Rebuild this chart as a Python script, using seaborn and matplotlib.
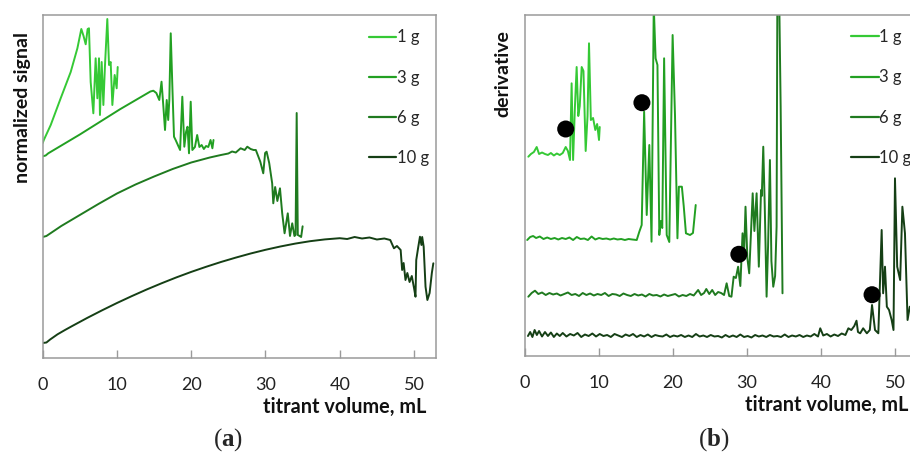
import matplotlib
matplotlib.use("Agg")
import matplotlib.pyplot as plt
import pandas as pd
import seaborn as sns

series_names = ["1 g", "3 g", "6 g", "10 g"]
series_colors = ["#35c935", "#22a022", "#1f7a1f", "#153f15"]
x_ticks = [0, 10, 20, 30, 40, 50]
x_label = "titrant volume, mL"
y_label_a = "normalized signal"
y_label_b = "derivative"

# ---- panel (a): normalized signal (offset curves, arbitrary units) ----
signal_1g = [(0, 215), (0.15, 218), (1.08, 233), (2.42, 259.7), (3.77, 286), (4.67, 309.7),
             (5.2, 329), (5.5, 322), (5.79, 313.7), (6.05, 329), (6.23, 329.7), (6.46, 276),
             (6.82, 244.7), (7.13, 299.7), (7.36, 259.7), (7.58, 299.7), (7.71, 243), (7.94, 296),
             (8.17, 253), (8.39, 293), (8.7, 339), (8.93, 293), (9.15, 296), (9.38, 253),
             (9.69, 283), (9.96, 269.7), (10.1, 291)]
signal_3g = [(0, 201.7), (0.4, 202.5), (0.75, 204.7), (5, 223.5), (10.4, 248.7), (14.5, 266.5),
             (14.9, 267.3), (15.3, 265), (15.7, 258), (16.0, 276.3), (16.25, 251.3), (16.47, 228),
             (16.7, 258), (16.9, 238), (17.05, 258), (17.24, 324.7), (17.46, 271.3), (17.68, 221.3),
             (17.9, 218), (18.5, 208), (18.8, 261.3), (19.07, 211.3), (19.3, 226), (19.5, 231.3),
             (19.7, 204.7), (19.93, 256.3), (20.15, 208), (20.5, 211), (20.8, 223), (21.1, 211),
             (21.4, 213), (21.7, 209), (22.0, 212), (22.3, 211), (22.6, 218), (22.85, 209.7), (23.0, 218)]
signal_6g = [(0, 121), (0.5, 122), (2.5, 132), (5.0, 143), (7.5, 154), (10.0, 164.5),
             (12.5, 173.5), (15.0, 181.5), (17.5, 189), (20.0, 195.5), (22.5, 200.5), (24.0, 203),
             (25.0, 204.5), (25.5, 206.5), (26.0, 205.5), (26.65, 209.7), (27.2, 208), (27.55, 211.3),
             (28.0, 209), (28.4, 208), (28.7, 208), (29.3, 196.3), (29.7, 184.7), (29.95, 205),
             (30.15, 206.3), (30.5, 195), (30.9, 174.7), (31.05, 154.7), (31.3, 171), (31.6, 157),
             (31.95, 169.7), (32.25, 144.7), (32.57, 124.7), (33.0, 144.7), (33.3, 122), (33.6, 134.7),
             (33.9, 122), (34.05, 123), (34.2, 245), (34.35, 123), (34.6, 122), (34.8, 121), (35.0, 131.7)]
signal_10g = [(0, 15), (0.5, 15.5), (1, 18.5), (2, 23.7), (3, 28.0), (4, 32.1), (5, 36.1), (6, 40.1),
              (8, 47.7), (10, 55), (12, 61.9), (14, 68.5), (16, 74.7), (18, 80.6), (20, 86.1),
              (22, 91.2), (24, 96), (26, 100.4), (28, 104.5), (30, 108.2), (32, 111.5), (34, 114.4),
              (36, 116.8), (38, 118.6), (40, 119.8), (41, 119), (42, 121), (43, 119.5), (44, 120.5),
              (45, 118.5), (46, 119.5), (46.8, 118), (47.3, 109.7), (47.7, 112), (48.2, 108), (48.4, 88),
              (48.6, 95), (48.85, 78), (49.1, 85), (49.4, 76), (49.7, 82), (50.0, 70), (50.2, 61.3),
              (50.3, 98), (50.55, 110), (50.8, 121.3), (51.0, 113), (51.1, 121), (51.3, 111.3),
              (51.55, 71.3), (51.8, 58), (52.1, 65), (52.4, 85), (52.6, 94.7)]

# ---- panel (b): derivative (offset curves, arbitrary units) ----
deriv_1g = [(0.45, 199.3), (0.8, 202), (1.2, 204), (1.58, 209), (1.9, 202), (2.3, 203.5), (2.7, 202),
            (3.1, 201), (3.5, 203), (3.9, 200.5), (4.3, 202.5), (4.7, 201), (5.1, 203), (5.5, 209),
            (5.8, 205), (6.08, 196), (6.3, 272.7), (6.5, 196), (6.75, 250), (6.98, 289), (7.2, 240),
            (7.4, 250), (7.66, 289), (7.9, 285), (8.2, 205), (8.45, 240), (8.65, 312.7), (8.9, 236),
            (9.2, 238), (9.5, 226), (9.75, 232), (10.0, 216), (10.1, 229)]
deriv_3g = [(0.3, 116), (0.7, 119), (1.1, 120), (1.5, 118), (2.0, 119.5), (2.5, 117), (3.0, 118.5),
            (3.5, 117), (4.0, 118), (4.5, 116.5), (5.0, 118), (5.5, 117), (6.0, 118.5), (6.5, 116),
            (7.0, 119), (7.5, 117), (8.0, 117.5), (8.5, 116), (9.0, 119.5), (9.5, 116.5), (10.0, 118),
            (10.5, 117), (11.0, 117.5), (11.5, 116.5), (12.0, 117.5), (12.5, 116.5), (13.0, 117),
            (13.5, 116), (14.0, 117), (14.5, 116.5), (15.1, 116), (15.45, 124.3), (15.77, 131),
            (16.1, 244.3), (16.45, 141), (16.8, 211), (17.1, 114.3), (17.4, 350), (17.65, 297.7),
            (17.9, 291), (18.15, 121), (18.35, 135), (18.55, 128), (18.8, 297.7), (19.15, 121),
            (19.5, 114), (19.95, 321), (20.27, 241), (20.6, 117.7), (20.8, 169.3), (21.2, 169.3),
            (21.45, 150), (21.75, 122.7), (22.3, 121), (22.7, 123), (23.07, 151)]
deriv_6g = [(0.45, 59.3), (0.9, 63), (1.35, 65.3), (1.8, 62), (2.3, 63.5), (2.8, 61), (3.3, 63),
            (3.8, 61.5), (4.3, 62.5), (4.8, 60.5), (5.3, 62), (5.8, 63.5), (6.3, 61), (6.8, 62),
            (7.3, 60), (7.8, 63), (8.3, 61), (8.8, 62.5), (9.3, 60.5), (9.8, 62), (10.3, 61),
            (10.8, 63), (11.3, 60), (11.8, 62), (12.3, 61.5), (12.8, 60), (13.3, 62.5), (13.8, 61),
            (14.3, 60), (14.8, 62), (15.3, 60.5), (15.8, 61.5), (16.3, 59.5), (16.8, 62), (17.3, 60.5),
            (17.8, 61), (18.3, 59.5), (18.8, 61.5), (19.3, 60), (19.8, 61), (20.3, 62), (20.8, 59.5),
            (21.3, 61), (21.8, 60), (22.3, 62), (22.8, 60.5), (23.4, 66), (23.8, 61), (24.2, 63),
            (24.5, 67), (24.9, 62), (25.3, 66), (25.7, 61), (26.1, 64), (26.5, 63), (26.9, 61),
            (27.25, 72.7), (27.6, 60), (27.9, 59.3), (28.2, 79.3), (28.5, 78), (28.8, 89.3), (29.1, 70),
            (29.4, 122.7), (29.6, 100), (29.8, 149.3), (30.05, 98), (30.3, 82.7), (30.55, 125),
            (30.77, 162.7), (31.0, 125), (31.3, 162.7), (31.6, 89.3), (31.9, 166), (32.0, 160),
            (32.2, 209.3), (32.4, 150), (32.65, 59.3), (32.85, 110), (33.1, 196), (33.3, 95),
            (33.55, 69.3), (33.8, 80), (34.0, 129.3), (34.1, 350), (34.37, 350), (34.55, 249), (34.8, 62.7)]
deriv_10g = [(0.4, 20), (0.7, 24), (1.0, 19), (1.3, 26), (1.6, 21), (1.9, 25), (2.3, 19.5), (2.7, 24),
             (3.1, 20), (3.5, 23.5), (3.9, 19), (4.3, 22.5), (4.7, 20), (5.1, 23), (5.6, 19.5), (6.1, 22),
             (6.6, 20.5), (7.1, 23), (7.6, 19), (8.1, 21.5), (8.6, 20), (9.1, 22.5), (9.6, 19.5), (10.1, 22),
             (10.6, 20), (11.1, 21), (11.6, 19), (12.1, 22), (12.6, 20.5), (13.1, 19), (13.6, 21.5),
             (14.1, 20), (14.6, 22), (15.1, 19), (15.6, 21), (16.1, 19.5), (16.6, 21.5), (17.1, 19),
             (17.6, 21), (18.1, 20), (18.6, 19.5), (19.1, 21.5), (19.6, 19), (20.1, 20.5), (20.6, 19.5),
             (21.1, 21), (21.6, 19), (22.1, 20.5), (22.6, 19), (23.1, 22), (23.6, 19.5), (24.1, 20.5),
             (24.6, 19), (25.1, 21), (25.6, 19.5), (26.1, 20), (26.6, 18.5), (27.1, 21), (27.6, 19),
             (28.1, 20.5), (28.6, 19), (29.1, 21.5), (29.6, 19), (30.1, 20), (30.6, 18.5), (31.1, 21),
             (31.6, 19.5), (32.1, 20.5), (32.6, 19), (33.1, 21), (33.6, 19.5), (34.1, 20), (34.6, 19),
             (35.1, 21.5), (35.6, 19), (36.1, 20.5), (36.6, 19.5), (37.1, 21), (37.6, 19), (38.1, 20.5),
             (38.6, 19.5), (39.1, 22), (39.6, 19.5), (39.9, 27.7), (40.3, 20.5), (40.8, 22), (41.3, 19.5),
             (41.8, 21.5), (42.3, 20), (42.8, 22.5), (43.3, 21), (43.7, 27.7), (44.1, 26), (44.5, 30),
             (44.8, 35.3), (45.0, 24), (45.3, 22.7), (45.7, 27.7), (46.2, 22.7), (46.6, 26), (46.9, 51),
             (47.3, 26), (47.75, 22.7), (48.2, 126), (48.4, 62.7), (48.65, 89.3), (48.9, 49.3),
             (49.2, 46), (49.55, 36), (49.8, 26), (50.0, 177.7), (50.3, 89.3), (50.7, 76), (51.0, 149.3),
             (51.35, 122.7), (51.7, 36), (52.0, 49.3)]

# end-point markers in panel (b)
endpoint_x = [5.5, 15.8, 28.9, 46.9]
endpoint_y = [227, 253.3, 101.7, 61.3]


def to_frame(series_list):
    rows = []
    for name, pts in zip(series_names, series_list):
        for order, (xv, yv) in enumerate(pts):
            rows.append({"x": xv, "y": yv, "sample": name, "order": order})
    return pd.DataFrame(rows)


df_a = to_frame([signal_1g, signal_3g, signal_6g, signal_10g])
df_b = to_frame([deriv_1g, deriv_3g, deriv_6g, deriv_10g])

sns.set_theme(style="white")
plt.rcParams["font.family"] = ["Lato", "DejaVu Sans"]
plt.rcParams["mathtext.fontset"] = "custom"
plt.rcParams["mathtext.rm"] = "Liberation Serif"
plt.rcParams["mathtext.bf"] = "Liberation Serif:bold"

W, H = 910, 459
fig = plt.figure(figsize=(W / 100, H / 100), dpi=100)


def px_axes(l, r, t, b):
    return fig.add_axes([l / W, 1 - b / H, (r - l) / W, (b - t) / H])


ax_a = px_axes(42.7, 436, 15, 358)
ax_b = px_axes(525, 910, 15, 356)

palette = dict(zip(series_names, series_colors))
spine_col = "#9a9a9a"

for ax, df, xmax, ymax in [(ax_a, df_a, 52.96, 343), (ax_b, df_b, 52.03, 341)]:
    sns.lineplot(data=df, x="x", y="y", hue="sample", hue_order=series_names,
                 palette=palette, sort=False, estimator=None, units="sample",
                 linewidth=1.4, ax=ax, legend=True)
    ax.set_xlim(0, xmax)
    ax.set_ylim(0, ymax)
    ax.set_xticks(x_ticks)
    ax.set_yticks([])
    ax.set_xlabel("")
    ax.set_ylabel("")
    ax.tick_params(axis="x", direction="in", length=6, width=1, color=spine_col,
                   labelsize=13, pad=14, bottom=True, labelcolor="#222222")
    for s in ax.spines.values():
        s.set_color(spine_col)
        s.set_linewidth(1.1)
    anchor_x = (369 - 42.7) / (436 - 42.7) if ax is ax_a else (851 - 525) / (910 - 525)
    leg = ax.legend(loc="upper left", bbox_to_anchor=(anchor_x, 0.958),
                    frameon=False, fontsize=12, handlelength=1.65, handletextpad=0.05,
                    labelspacing=1.45, borderpad=0, borderaxespad=0)
    for line in leg.get_lines():
        line.set_linewidth(1.6)

ax_b.spines["right"].set_visible(False)

sns.scatterplot(x=endpoint_x, y=endpoint_y, color="black", s=150, edgecolor="none",
                ax=ax_b, zorder=5, legend=False)

# axis titles
fig.text(426.7 / W, 1 - 407 / H, x_label, ha="right", va="center",
         fontsize=14.3, fontweight="bold", color="#111111")
fig.text(908 / W, 1 - 405 / H, x_label, ha="right", va="center",
         fontsize=14.3, fontweight="bold", color="#111111")
fig.text(22.5 / W, 1 - 32 / H, y_label_a, rotation=90, ha="center", va="top",
         fontsize=14, fontweight="bold", color="#111111")
fig.text(503 / W, 1 - 30 / H, y_label_b, rotation=90, ha="center", va="top",
         fontsize=14, fontweight="bold", color="#111111")

# panel letters
fig.text(228 / W, 1 - 440 / H, r"($\mathbf{a}$)", ha="center", va="center",
         fontsize=18, family="Liberation Serif")
fig.text(714 / W, 1 - 440 / H, r"($\mathbf{b}$)", ha="center", va="center",
         fontsize=18, family="Liberation Serif")

fig.savefig("out.png", dpi=100)
